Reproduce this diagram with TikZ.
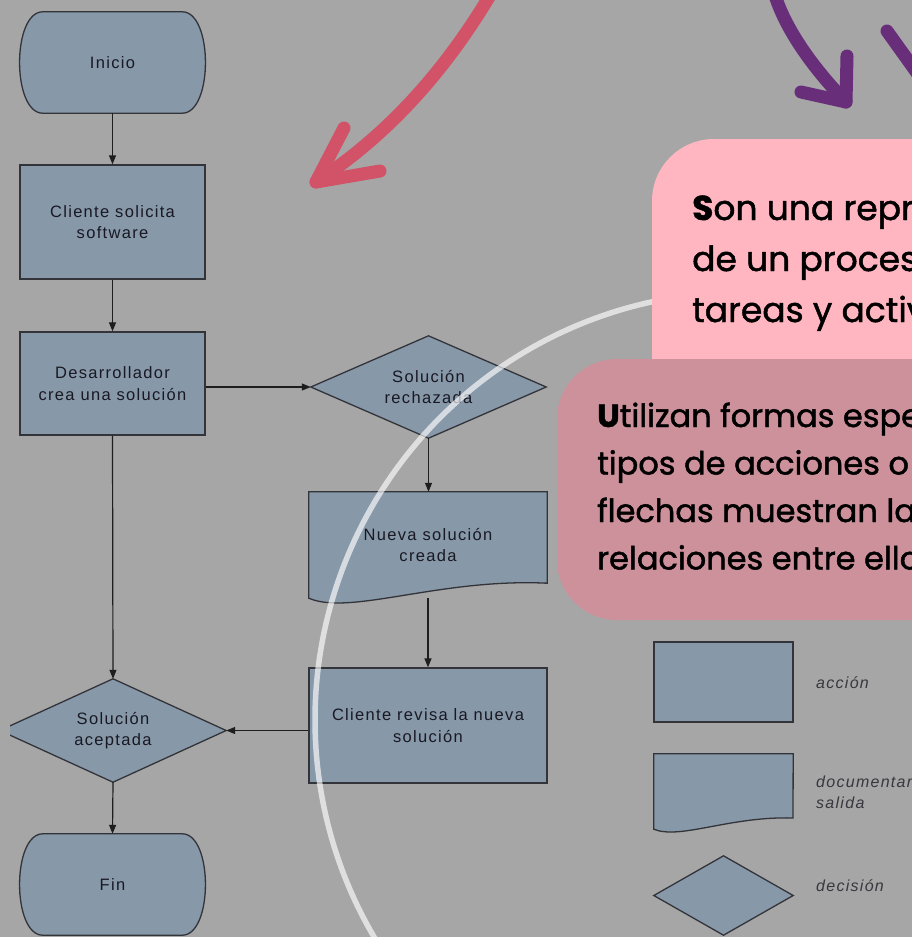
\documentclass[tikz,border=0pt]{standalone}
\usepackage{fontspec}
\setmainfont{Liberation Sans}
\newfontfamily\fcfont[LetterSpace=8]{Liberation Sans}
\newfontfamily\popfont[FakeBold=1.4]{Poppins}
\usetikzlibrary{arrows.meta,calc}
\definecolor{bggray}{RGB}{166,166,166}
\definecolor{boxfill}{RGB}{135,152,169}
\definecolor{boxline}{RGB}{50,52,58}
\definecolor{txt}{RGB}{25,25,35}
\definecolor{legtxt}{RGB}{55,55,62}
\definecolor{pinkA}{RGB}{255,182,193}
\definecolor{pinkB}{RGB}{205,145,155}
\definecolor{redarrow}{RGB}{210,82,104}
\definecolor{purparrow}{RGB}{104,46,122}
\pgfdeclarelayer{lzero}
\pgfdeclarelayer{lone}
\pgfdeclarelayer{ltop}
\pgfsetlayers{lzero,lone,main,ltop}
\tikzset{
  fc/.style={fill=boxfill, draw=boxline, line width=1.3pt},
  fctext/.style={font=\fcfont\fontsize{16.5}{21.5}\selectfont, text=txt, align=center, inner sep=0pt},
  proc/.style={fc, fctext, rectangle},
  ghost/.style={fctext, rectangle, draw=none, fill=none},
  conn/.style={draw={rgb,255:red,30;green,30;blue,30}, line width=1.2pt, -{Triangle[length=9pt,width=7pt]}},
  legtext/.style={font=\fcfont\itshape\fontsize{16}{21}\selectfont, text=legtxt, anchor=west, align=left, inner sep=0pt},
  popA/.style={font=\popfont\fontsize{34.5}{51}\selectfont, text=black, anchor=base west, inner sep=0pt},
  popB/.style={font=\popfont\fontsize{32}{47}\selectfont, text=black, anchor=base west, inner sep=0pt},
  hand/.style={line width=13pt, line cap=round, line join=round}
}
\newcommand{\termshape}[1]{%
  \draw[fc] ($(#1.north west)+(23,0)$) -- ($(#1.north east)+(-23,0)$)
    .. controls ($(#1.north east)+(8,0)$) and ($(#1.south east)+(8,0)$) .. ($(#1.south east)+(-23,0)$)
    -- ($(#1.south west)+(23,0)$)
    .. controls ($(#1.south west)+(-8,0)$) and ($(#1.north west)+(-8,0)$) .. cycle;}
\begin{document}
\begin{tikzpicture}[x=1pt,y=-1pt]
\useasboundingbox (0,0) rectangle (912,937);
\clip (0,0) rectangle (912,937);
\begin{pgfonlayer}{lzero}
\fill[bggray] (0,0) rectangle (912,937);
\end{pgfonlayer}

% flowchart nodes
\node[ghost, minimum width=185, minimum height=101] (ini) at (112.5,62.5) {Inicio};
\node[proc, minimum width=185, minimum height=114] (cs) at (112.5,222) {Cliente solicita\\software};
\node[proc, minimum width=185, minimum height=103] (dev) at (112.5,383.5) {Desarrollador\\crea una solución};
\node[ghost, minimum width=235, minimum height=102] (rech) at (428.5,387) {Solución\\rechazada};
\node[ghost, minimum width=238, minimum height=106] (nueva) at (428,545) {Nueva solución\\creada};
\node[proc, minimum width=238, minimum height=115] (rev) at (428,725.5) {Cliente revisa la nueva\\solución};
\node[ghost, minimum width=226, minimum height=103] (acep) at (113,730.5) {Solución\\aceptada};
\node[ghost, minimum width=185, minimum height=101] (fin) at (112.5,884.5) {Fin};

\begin{pgfonlayer}{lone}
\termshape{ini}
\termshape{fin}
\draw[fc] (rech.north) -- (rech.east) -- (rech.south) -- (rech.west) -- cycle;
\draw[fc] (nueva.north west) -- (nueva.north east) -- ($(nueva.south east)+(0,-15)$)
  .. controls (440,578) and (350,616) .. ($(nueva.south west)$) -- cycle;
\begin{scope}
\clip (10,600) rectangle (300,800);
\draw[fc] (acep.north) -- (acep.east) -- (acep.south) -- (acep.west) -- cycle;
\end{scope}
\end{pgfonlayer}

% connectors
\draw[conn] (ini.south) -- (cs.north);
\draw[conn] (cs.south) -- (dev.north);
\draw[conn] (rech.west -| dev.east) -- (rech.west);
\draw[conn] (rech.south) -- (rech.south |- nueva.north);
\draw[conn] (nueva.south) -- (rev.north);
\draw[conn] (rev.west |- acep.east) -- (acep.east);
\draw[conn] (dev.south) -- (acep.north);
\draw[conn] (acep.south) -- (fin.north);

% legend
\node[proc, minimum width=139, minimum height=80] (lga) at (723.5,682) {};
\node[ghost, minimum width=139, minimum height=75] (lgb) at (723.5,791.5) {};
\node[ghost, minimum width=139, minimum height=79] (lgc) at (723.5,895.5) {};
\begin{pgfonlayer}{lone}
\draw[fc] (lgb.north west) -- (lgb.north east) -- (793,818)
  .. controls (730,816) and (680,840) .. (lgb.south west) -- cycle;
\draw[fc] (lgc.north) -- (lgc.east) -- (lgc.south) -- (lgc.west) -- cycle;
\end{pgfonlayer}
\node[legtext] (la) at (816,683) {acción};
\node[legtext] (lb) at (816,792.5) {documentar\\salida};
\node[legtext] (lc) at (816,886) {decisión};

\begin{pgfonlayer}{ltop}
% white arc
\draw[white, opacity=0.65, line width=5.5pt] ([shift={(743,720)}]258:428) arc[start angle=258, end angle=148, radius=428];
% pink boxes
\fill[pinkA, rounded corners=62pt] (652,139) rectangle (1000,420);
\node[popA] (pa1) at (692,220) {{\bfseries S}on una representación};
\node[popA] (pa2) at (692,271) {de un proceso};
\node[popA] (pa3) at (692,322) {tareas y actividades};
\fill[pinkB, rounded corners=60pt] (557,359) rectangle (1000,620);
\node[popB] (pb1) at (597,427) {{\bfseries U}tilizan formas específicas};
\node[popB] (pb2) at (597,474.5) {tipos de acciones o};
\node[popB] (pb3) at (597,522) {flechas muestran las};
\node[popB] (pb4) at (597,569.5) {relaciones entre ellos};
% hand-drawn arrows
\draw[hand, redarrow] (492,-8) .. controls (440,80) and (380,140) .. (316,182);
\draw[hand, redarrow] (344,128) -- (316,182) -- (380,171);
\draw[hand, purparrow] (774,-8) .. controls (785,30) and (815,70) .. (846,102);
\draw[hand, purparrow] (847,56) -- (846,102) -- (801,92);
\draw[hand, purparrow] (887,31) -- (940,105);
\end{pgfonlayer}
\end{tikzpicture}
\end{document}
